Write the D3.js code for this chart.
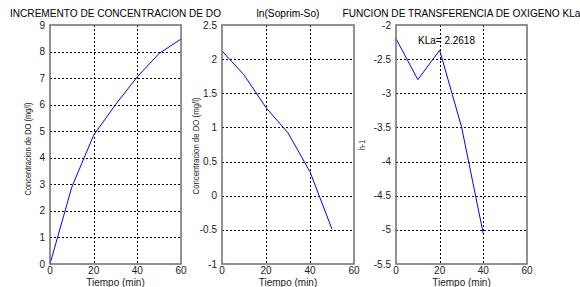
<!DOCTYPE html>
<html>
<head>
<meta charset="utf-8">
<script src="https://cdn.jsdelivr.net/npm/d3@7"></script>
<style>
  body { margin: 0; background: #fff; }
  svg { display: block; font-family: "Liberation Sans", Arial, sans-serif; }
</style>
</head>
<body>
<svg id="chart" width="580" height="287"></svg>
<script>
// data
const timeDO = [0, 10, 20, 30, 40, 50, 60];
const concDO = [0, 2.9, 4.85, 6.0, 7.05, 7.93, 8.47];

const timeLn = [0, 10, 20, 30, 40, 50];
const lnDeficit = [2.12, 1.77, 1.29, 0.92, 0.35, -0.49];

const timeKla = [0, 10, 20, 30, 40];
const klaValues = [-2.2, -2.8, -2.37, -3.49, -5.06];

const xTicks = [0, 20, 40, 60];
const yTicksDO = [0, 1, 2, 3, 4, 5, 6, 7, 8, 9];
const yTicksLn = [-1, -0.5, 0, 0.5, 1, 1.5, 2, 2.5];
const yTicksKla = [-5.5, -5, -4.5, -4, -3.5, -3, -2.5, -2];

const svg = d3.select("#chart");
const plotTop = 25, plotBottom = 264;

function drawPanel(p) {
  const x = d3.scaleLinear().domain([0, 60]).range([p.left, p.right]);
  const y = d3.scaleLinear().domain(p.yDomain).range([plotBottom, plotTop]);
  const g = svg.append("g");

  // grid (dotted)
  g.selectAll("line.gx")
    .data(xTicks.slice(1, -1))
    .join("line")
    .attr("x1", (d) => Math.round(x(d)) + 0.5)
    .attr("x2", (d) => Math.round(x(d)) + 0.5)
    .attr("y1", plotTop)
    .attr("y2", plotBottom)
    .attr("stroke", "#000")
    .attr("stroke-dasharray", "2,2");
  g.selectAll("line.gy")
    .data(p.yTicks.slice(1, -1))
    .join("line")
    .attr("y1", (d) => Math.round(y(d)) + 0.5)
    .attr("y2", (d) => Math.round(y(d)) + 0.5)
    .attr("x1", p.left)
    .attr("x2", p.right)
    .attr("stroke", "#000")
    .attr("stroke-dasharray", "2,2");

  // data line
  const line = d3.line().x((d) => x(d[0])).y((d) => y(d[1]));
  g.append("path")
    .datum(p.xs.map((t, i) => [t, p.ys[i]]))
    .attr("fill", "none")
    .attr("stroke", "#0000ff")
    .attr("stroke-width", 1)
    .attr("d", line);

  // box
  g.append("rect")
    .attr("x", p.left)
    .attr("y", plotTop)
    .attr("width", p.right - p.left)
    .attr("height", plotBottom - plotTop)
    .attr("fill", "none")
    .attr("stroke", "#6e6e6e")
    .attr("stroke-width", 1.5);

  // tick labels
  g.selectAll("text.yt")
    .data(p.yTicks)
    .join("text")
    .attr("x", p.left - 5)
    .attr("y", (d) => y(d) + 3.5)
    .attr("text-anchor", "end")
    .attr("font-size", 10)
    .attr("fill", "#222")
    .text((d) => d);
  g.selectAll("text.xt")
    .data(xTicks)
    .join("text")
    .attr("x", (d) => x(d))
    .attr("y", 274)
    .attr("text-anchor", "middle")
    .attr("font-size", 10)
    .attr("fill", "#222")
    .text((d) => d);

  // axis labels and title
  g.append("text")
    .attr("x", (p.left + p.right) / 2)
    .attr("y", 286)
    .attr("text-anchor", "middle")
    .attr("font-size", 10)
    .attr("fill", "#222")
    .text("Tiempo (min)");
  g.append("text")
    .attr("transform", `translate(${p.yLabelX},${p.yLabelY}) rotate(-90)`)
    .attr("text-anchor", "middle")
    .attr("font-size", 8.5)
    .attr("fill", "#222")
    .attr("textLength", p.yLabelLen)
    .attr("lengthAdjust", "spacingAndGlyphs")
    .text(p.yLabel);
  g.append("text")
    .attr("x", (p.left + p.right) / 2)
    .attr("y", 17)
    .attr("text-anchor", "middle")
    .attr("font-size", 10)
    .attr("fill", "#000")
    .attr("textLength", p.titleLen)
    .attr("lengthAdjust", "spacingAndGlyphs")
    .text(p.title);
  return { x, y };
}

drawPanel({
  left: 50, right: 181, yDomain: [0, 9], yTicks: yTicksDO,
  xs: timeDO, ys: concDO,
  title: "INCREMENTO DE CONCENTRACION DE DO", titleLen: 211,
  yLabel: "Concentracion de DO (mg/l)", yLabelX: 31, yLabelY: 149, yLabelLen: 93
});

drawPanel({
  left: 222, right: 354, yDomain: [-1, 2.5], yTicks: yTicksLn,
  xs: timeLn, ys: lnDeficit,
  title: "ln(Soprim-So)", titleLen: 63,
  yLabel: "Concentracion de DO (mg/l)", yLabelX: 199, yLabelY: 146, yLabelLen: 97
});

drawPanel({
  left: 396, right: 527, yDomain: [-5.5, -2], yTicks: yTicksKla,
  xs: timeKla, ys: klaValues,
  title: "FUNCION DE TRANSFERENCIA DE OXIGENO KLa", titleLen: 238,
  yLabel: "h-1", yLabelX: 365, yLabelY: 145, yLabelLen: 10
});

svg.append("text")
  .attr("x", 418)
  .attr("y", 44)
  .attr("font-size", 10)
  .attr("fill", "#000")
  .text("KLa= 2.2618");
</script>
</body>
</html>
